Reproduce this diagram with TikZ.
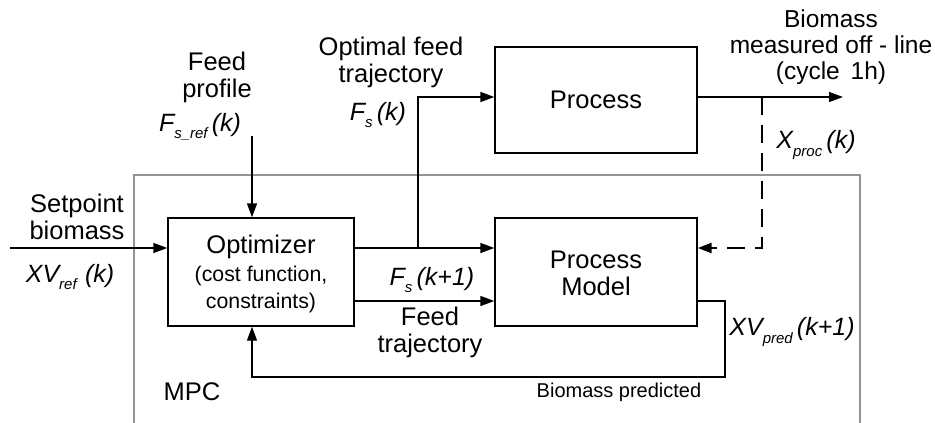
\documentclass[tikz,border=0pt]{standalone}
\usepackage{fontspec}
\setmainfont{Liberation Sans}
\usetikzlibrary{arrows.meta,calc}
\newcommand\lowsub[1]{\raisebox{-0.3em}{\fontsize{15}{15}\selectfont #1}}
\tikzset{
  block/.style={draw, line width=1.4pt, inner sep=0pt},
  lbl/.style={font=\fontsize{25.5}{27}\selectfont, align=center, inner sep=0pt},
  small/.style={font=\fontsize{21.3}{27}\selectfont, align=center, inner sep=0pt},
  tiny/.style={font=\fontsize{20}{22}\selectfont, align=center, inner sep=0pt},
  var/.style={font=\fontsize{25}{27}\selectfont\itshape, inner sep=0pt},
  wire/.style={line width=1.4pt},
  arr/.style={wire, -{Triangle[length=14pt,width=10pt]}},
  dasharr/.style={line width=2.6pt, dash pattern=on 18pt off 10pt,
    -{Triangle[length=14pt,width=10pt]}},
  frame/.style={draw=black!42, line width=1.4pt}
}
\begin{document}
\begin{tikzpicture}[x=1pt,y=-1pt]
\useasboundingbox (0,0) rectangle (935,423);

% MPC frame, open towards the bottom
\draw[frame] (134,423) |- (860,175) -- (860,423);
\node[lbl] (mpc) at (192,392) {MPC};

% blocks
\node[block, minimum width=186pt, minimum height=108pt] (opt) at (261,272) {};
\node[block, minimum width=202pt, minimum height=106pt] (proc) at (596,100) {};
\node[block, minimum width=202pt, minimum height=108pt] (mod) at (596,272) {};

\node[lbl] (optT) at (261,247) {Optimizer};
\node[small] (optS) at (261,289) {(cost function,\\constraints)};
\node[lbl] (procT) at (596,100) {Process};
\node[lbl] (modT) at (596,273) {Process\\Model};

% setpoint input
\coordinate (spin) at (10,248);
\draw[arr] (spin) -- (spin -| opt.west);
\node[lbl] (spT) at (77,217) {Setpoint\\biomass};
\node[var] (xvref) at (70,277) {XV\lowsub{ref}\,\,(k)};

% feed profile input
\coordinate (fpin) at (252,136);
\draw[arr] (fpin) -- (fpin |- opt.north);
\node[lbl] (fpT) at (217,77) {Feed\\profile};
\node[var] (fsref) at (200,127) {F\lowsub{s\_ref}\,(k)};

% optimizer outputs
\coordinate (o1) at ($(opt.east)+(0,-24)$);
\coordinate (o2) at ($(opt.east)+(0,29)$);
\coordinate (br) at (418,248);
\draw[arr] (o1) -- (o1 -| mod.west);
\draw[arr] (o2) -- (o2 -| mod.west);
\coordinate (pin) at ($(proc.west)+(0,-3)$);
\draw[arr] (br) |- (pin);
\node[lbl] (oftT) at (391,62) {Optimal feed\\trajectory};
\node[var] (fsk) at (378,115) {F\lowsub{s}\,(k)};
\node[var] (fsk1) at (432,280) {F\lowsub{s}\,(k+1)};
\node[lbl] (ftT) at (430,332) {Feed\\trajectory};

% process output and off-line measurement
\coordinate (pout) at ($(proc.east)+(0,-3)$);
\coordinate (out) at (843,97);
\coordinate (tap) at (762,97);
\draw[arr] (pout) -- (out);
\coordinate (min) at ($(mod.east)+(0,-24)$);
\draw[dasharr] (tap) |- (min);
\node[lbl, font=\fontsize{24.5}{26}\selectfont] (bmT) at (831,47)
  {Biomass\\measured off - line\\(cycle\, 1h)};
\node[var] (xproc) at (816,145) {X\lowsub{proc}\,(k)};

% model prediction fed back
\coordinate (m2) at ($(mod.east)+(0,29)$);
\coordinate (fbr) at (725,377);
\coordinate (fbl) at (252,377);
\draw[arr] (m2) -| (fbr) -- (fbl) -- (fbl |- opt.south);
\node[var] (xvpred) at (792,332) {XV\lowsub{pred}\,(k+1)};
\node[tiny] (bpT) at (619,392) {Biomass predicted};
\end{tikzpicture}
\end{document}
